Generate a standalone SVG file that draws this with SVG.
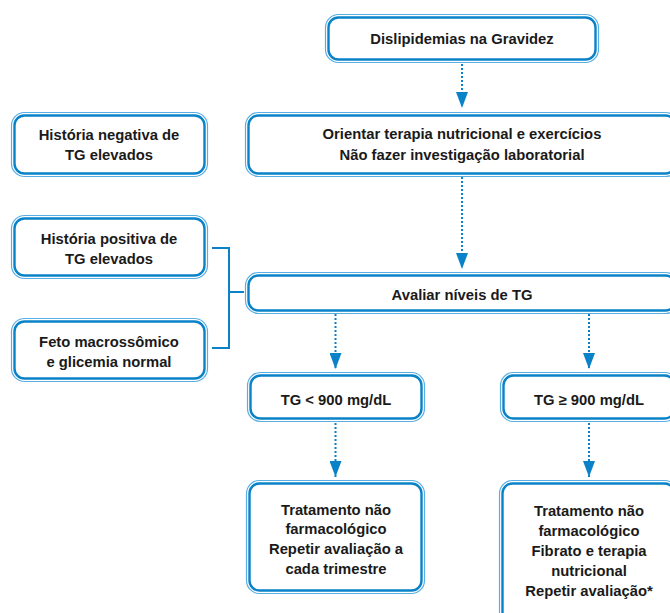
<svg xmlns="http://www.w3.org/2000/svg" width="670" height="613" viewBox="0 0 670 613">
  <defs>
    <style>
      .o { fill: #ffffff; stroke: #5aaee2; stroke-width: 1.2; }
      .i { fill: none; stroke: #0a82c8; stroke-width: 2.4; }
      .t { font-family: "Liberation Sans", Arial, sans-serif; font-weight: bold; font-size: 14.8px; fill: #1a1a1a; text-anchor: middle; }
      .dot { fill: none; stroke: #0a82c8; stroke-width: 2; stroke-dasharray: 2 2; }
      .br { fill: none; stroke: #0a82c8; stroke-width: 2; }
    </style>
    <marker id="head" viewBox="0 0 16 12" refX="16" refY="6" markerWidth="16" markerHeight="12" markerUnits="userSpaceOnUse" orient="auto">
      <path d="M0,0 L16,6 L0,12 Z" fill="#0a82c8"/>
    </marker>
  </defs>

  <g id="connectors">
    <path class="dot" d="M462,64 V108" marker-end="url(#head)"/>
    <path class="dot" d="M462,177 V269" marker-end="url(#head)"/>
    <path class="dot" d="M335.5,314 V369" marker-end="url(#head)"/>
    <path class="dot" d="M589,314 V369" marker-end="url(#head)"/>
    <path class="dot" d="M335.5,423 V477" marker-end="url(#head)"/>
    <path class="dot" d="M589,423 V477" marker-end="url(#head)"/>
    <path class="br" d="M212,248 H229 V348 H212 M229,292 H244"/>
  </g>

  <g id="start">
    <rect class="o" x="325.5" y="14.5" width="273" height="48" rx="13"/>
    <rect class="i" x="328.5" y="17.5" width="267" height="42" rx="10"/>
    <text class="t" x="462" y="44">Dislipidemias na Gravidez</text>
  </g>

  <g id="orientar">
    <rect class="o" x="245.5" y="112.5" width="433" height="64" rx="13"/>
    <rect class="i" x="248.5" y="115.5" width="427" height="58" rx="10"/>
    <text class="t" x="462" y="139">Orientar terapia nutricional e exercícios</text>
    <text class="t" x="462" y="160">Não fazer investigação laboratorial</text>
  </g>

  <g id="hist-negativa">
    <rect class="o" x="11.5" y="112.5" width="196" height="64" rx="13"/>
    <rect class="i" x="14.5" y="115.5" width="190" height="58" rx="10"/>
    <text class="t" x="109" y="140">História negativa de</text>
    <text class="t" x="109" y="160">TG elevados</text>
  </g>

  <g id="hist-positiva">
    <rect class="o" x="11.5" y="215.5" width="196" height="63" rx="13"/>
    <rect class="i" x="14.5" y="218.5" width="190" height="57" rx="10"/>
    <text class="t" x="109" y="244">História positiva de</text>
    <text class="t" x="109" y="264">TG elevados</text>
  </g>

  <g id="feto">
    <rect class="o" x="11.5" y="318.5" width="196" height="63" rx="13"/>
    <rect class="i" x="14.5" y="321.5" width="190" height="57" rx="10"/>
    <text class="t" x="109" y="347">Feto macrossômico</text>
    <text class="t" x="109" y="367">e glicemia normal</text>
  </g>

  <g id="avaliar">
    <rect class="o" x="245.5" y="272.5" width="433" height="41" rx="13"/>
    <rect class="i" x="248.5" y="275.5" width="427" height="35" rx="10"/>
    <text class="t" x="462" y="300">Avaliar níveis de TG</text>
  </g>

  <g id="tg-menor">
    <rect class="o" x="247.5" y="372.5" width="177" height="49" rx="13"/>
    <rect class="i" x="250.5" y="375.5" width="171" height="43" rx="10"/>
    <text class="t" x="336" y="405">TG &lt; 900 mg/dL</text>
  </g>

  <g id="tg-maior">
    <rect class="o" x="500.5" y="372.5" width="177" height="49" rx="13"/>
    <rect class="i" x="503.5" y="375.5" width="171" height="43" rx="10"/>
    <text class="t" x="589" y="405">TG ≥ 900 mg/dL</text>
  </g>

  <g id="trat-menor">
    <rect class="o" x="246.5" y="480.5" width="178" height="113" rx="13"/>
    <rect class="i" x="249.5" y="483.5" width="172" height="107" rx="10"/>
    <text class="t" x="336" y="515">Tratamento não</text>
    <text class="t" x="336" y="534">farmacológico</text>
    <text class="t" x="336" y="554">Repetir avaliação a</text>
    <text class="t" x="336" y="574">cada trimestre</text>
  </g>

  <g id="trat-maior">
    <rect class="o" x="499.5" y="480.5" width="178" height="150" rx="13"/>
    <rect class="i" x="502.5" y="483.5" width="172" height="144" rx="10"/>
    <text class="t" x="589" y="516">Tratamento não</text>
    <text class="t" x="589" y="536">farmacológico</text>
    <text class="t" x="589" y="556">Fibrato e terapia</text>
    <text class="t" x="589" y="576">nutricional</text>
    <text class="t" x="589" y="596">Repetir avaliação*</text>
  </g>
</svg>
